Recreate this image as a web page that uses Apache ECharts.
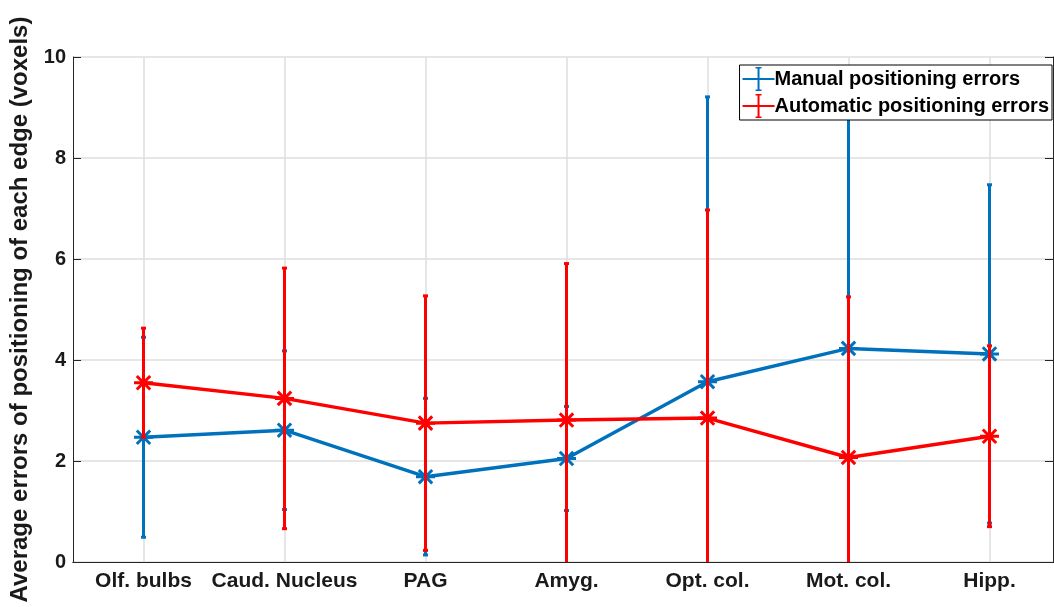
<!DOCTYPE html>
<html><head><meta charset="utf-8">
<script src="https://cdn.jsdelivr.net/npm/echarts@6/dist/echarts.min.js"></script>
<style>html,body{margin:0;padding:0;background:#fff;overflow:hidden}#c{width:1062px;height:607px}</style>
</head><body><div id="c"></div>
<script>
var categories = ['Olf. bulbs', 'Caud. Nucleus', 'PAG', 'Amyg.', 'Opt. col.', 'Mot. col.', 'Hipp.'];
var manualMean = [2.47, 2.61, 1.69, 2.05, 3.57, 4.23, 4.12];
var manualErr  = [1.98, 1.57, 1.55, 1.03, 5.64, 5.00, 3.35];
var autoMean   = [3.55, 3.24, 2.75, 2.81, 2.85, 2.07, 2.49];
var autoErr    = [1.08, 2.58, 2.52, 3.10, 4.12, 3.18, 1.79];
var yTicks = [0, 2, 4, 6, 8, 10];
var seriesNames = ['Manual positioning errors', 'Automatic positioning errors'];
var BLUE = '#0072BD', RED = '#FF0000';

function errData(mean, err) {
  return mean.map(function (m, i) { return [i, m - err[i], m + err[i]]; });
}
function errRender(color) {
  return function (params, api) {
    var cs = params.coordSys;
    var lo = api.coord([api.value(0), api.value(1)]);
    var hi = api.coord([api.value(0), api.value(2)]);
    var top = cs.y, bot = cs.y + cs.height;
    var y1 = Math.max(top, Math.min(bot, hi[1]));
    var y2 = Math.max(top, Math.min(bot, lo[1]));
    var x = lo[0];
    var children = [{
      type: 'line', shape: { x1: x, y1: y1, x2: x, y2: y2 },
      style: { stroke: color, lineWidth: 3 }
    }];
    if (hi[1] >= top) children.push({ type: 'line', shape: { x1: x - 2.5, y1: hi[1], x2: x + 2.5, y2: hi[1] }, style: { stroke: color, lineWidth: 3 } });
    if (lo[1] <= bot) children.push({ type: 'line', shape: { x1: x - 2.5, y1: lo[1], x2: x + 2.5, y2: lo[1] }, style: { stroke: color, lineWidth: 3 } });
    return { type: 'group', children: children };
  };
}
var star = 'path://M0,-10L0,10M-10,0L10,0M-7.07,-7.07L7.07,7.07M-7.07,7.07L7.07,-7.07';
var legendIcon = 'path://M0,11L32,11L32,13L0,13ZM15,1L17,1L17,23L15,23ZM13,0L19,0L19,1.6L13,1.6ZM13,22.4L19,22.4L19,24L13,24Z';

var chart = echarts.init(document.getElementById('c'));
chart.setOption({
  animation: false,
  textStyle: { fontFamily: 'Liberation Sans, Arial, sans-serif' },
  grid: { left: 71, right: 2, top: 57, bottom: 45, show: false },
  legend: {
    orient: 'vertical', right: 10, top: 65, itemWidth: 32, itemHeight: 24, itemGap: 3,
    backgroundColor: '#fff', borderColor: '#000', borderWidth: 1, borderRadius: 0,
    padding: [2, 3, 2, 3],
    textStyle: { fontSize: 20, fontWeight: 'bold', color: '#000', padding: [0, 0, 0, -5] },
    data: [
      { name: seriesNames[0], icon: legendIcon, itemStyle: { color: BLUE } },
      { name: seriesNames[1], icon: legendIcon, itemStyle: { color: RED } }
    ]
  },
  xAxis: [{
    type: 'category', data: categories, boundaryGap: true,
    axisLine: { lineStyle: { color: '#262626', width: 1 } },
    axisTick: { alignWithLabel: true, inside: true, length: 8, lineStyle: { color: '#262626' } },
    axisLabel: { fontSize: 21, fontWeight: 'bold', color: '#1a1a1a', margin: 9, interval: 0 },
    splitLine: { show: true, alignWithLabel: true, lineStyle: { color: '#dedede', width: 1.5 } }
  }, {
    type: 'category', data: categories, position: 'top', boundaryGap: true,
    axisLine: { lineStyle: { color: '#262626', width: 1 } },
    axisTick: { alignWithLabel: true, inside: true, length: 8, lineStyle: { color: '#262626' } },
    axisLabel: { show: false }, splitLine: { show: false }
  }],
  yAxis: [{
    type: 'value', min: yTicks[0], max: yTicks[yTicks.length - 1], interval: 2,
    name: 'Average errors of positioning of each edge (voxels)', nameLocation: 'middle', nameGap: 41,
    nameTextStyle: { fontSize: 24, fontWeight: 'bold', color: '#1a1a1a' },
    axisLine: { show: true, lineStyle: { color: '#262626', width: 1 } },
    axisTick: { show: true, inside: true, length: 8, lineStyle: { color: '#262626' } },
    axisLabel: { fontSize: 20, fontWeight: 'bold', color: '#1a1a1a', margin: 7 },
    splitLine: { show: true, lineStyle: { color: '#dedede', width: 1.5 } }
  }, {
    type: 'value', min: yTicks[0], max: yTicks[yTicks.length - 1], interval: 2, position: 'right', offset: -7,
    axisLine: { show: true, lineStyle: { color: '#262626', width: 1 } },
    axisTick: { show: true, inside: true, length: 8, lineStyle: { color: '#262626' } },
    axisLabel: { show: false }, splitLine: { show: false }
  }],
  series: [{
    name: seriesNames[0], type: 'custom', z: 2, data: errData(manualMean, manualErr),
    renderItem: errRender(BLUE), itemStyle: { color: BLUE }, encode: { x: 0, y: [1, 2] }
  }, {
    name: seriesNames[0], type: 'line', z: 3, data: manualMean,
    symbol: star, symbolSize: 19,
    lineStyle: { color: BLUE, width: 3.5 },
    itemStyle: { color: BLUE, borderColor: BLUE, borderWidth: 3 }
  }, {
    name: seriesNames[1], type: 'custom', z: 4, data: errData(autoMean, autoErr),
    renderItem: errRender(RED), itemStyle: { color: RED }, encode: { x: 0, y: [1, 2] }
  }, {
    name: seriesNames[1], type: 'line', z: 5, data: autoMean,
    symbol: star, symbolSize: 19,
    lineStyle: { color: RED, width: 3.5 },
    itemStyle: { color: RED, borderColor: RED, borderWidth: 3 }
  }]
});
</script></body></html>
